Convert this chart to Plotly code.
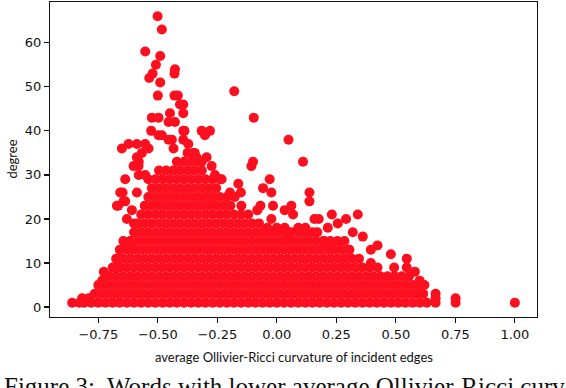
import plotly.graph_objects as go

# ---- dense core of the cloud: one list of curvature values per degree level ----
core_degrees = [1, 3, 5, 7, 9, 11, 13, 15, 17, 19, 21, 23, 25, 27, 29, 31, 33, 35]
core_x_by_degree = [
    [-0.83, -0.81, -0.78, -0.75, -0.72, -0.69, -0.66, -0.63, -0.60, -0.57, -0.54, -0.51, -0.48, -0.45, -0.42, -0.39,
     -0.36, -0.33, -0.30, -0.27, -0.24, -0.21, -0.18, -0.15, -0.12, -0.09, -0.06, -0.03, 0.00, 0.03, 0.06, 0.09,
     0.12, 0.15, 0.18, 0.21, 0.24, 0.27, 0.30, 0.33, 0.36, 0.39, 0.42, 0.45, 0.48, 0.51, 0.54, 0.57, 0.60, 0.63],
    [-0.765, -0.735, -0.705, -0.675, -0.645, -0.615, -0.585, -0.555, -0.525, -0.495, -0.465, -0.435, -0.405, -0.375,
     -0.345, -0.315, -0.285, -0.255, -0.225, -0.195, -0.165, -0.135, -0.105, -0.075, -0.045, -0.015, 0.015, 0.045,
     0.075, 0.105, 0.135, 0.165, 0.195, 0.225, 0.255, 0.285, 0.315, 0.345, 0.375, 0.405, 0.435, 0.465, 0.495, 0.525,
     0.555, 0.585, 0.615],
    [-0.75, -0.72, -0.69, -0.66, -0.63, -0.60, -0.57, -0.54, -0.51, -0.48, -0.45, -0.42, -0.39, -0.36, -0.33, -0.30,
     -0.27, -0.24, -0.21, -0.18, -0.15, -0.12, -0.09, -0.06, -0.03, 0.00, 0.03, 0.06, 0.09, 0.12, 0.15, 0.18, 0.21,
     0.24, 0.27, 0.30, 0.33, 0.36, 0.39, 0.42, 0.45, 0.48, 0.51, 0.54, 0.57, 0.60],
    [-0.705, -0.675, -0.645, -0.615, -0.585, -0.555, -0.525, -0.495, -0.465, -0.435, -0.405, -0.375, -0.345, -0.315,
     -0.285, -0.255, -0.225, -0.195, -0.165, -0.135, -0.105, -0.075, -0.045, -0.015, 0.015, 0.045, 0.075, 0.105,
     0.135, 0.165, 0.195, 0.225, 0.255, 0.285, 0.315, 0.345, 0.375, 0.405, 0.435, 0.465, 0.495, 0.525, 0.555],
    [-0.69, -0.66, -0.63, -0.60, -0.57, -0.54, -0.51, -0.48, -0.45, -0.42, -0.39, -0.36, -0.33, -0.30, -0.27, -0.24,
     -0.21, -0.18, -0.15, -0.12, -0.09, -0.06, -0.03, 0.00, 0.03, 0.06, 0.09, 0.12, 0.15, 0.18, 0.21, 0.24, 0.27,
     0.30, 0.33, 0.36, 0.39],
    [-0.675, -0.645, -0.615, -0.585, -0.555, -0.525, -0.495, -0.465, -0.435, -0.405, -0.375, -0.345, -0.315, -0.285,
     -0.255, -0.225, -0.195, -0.165, -0.135, -0.105, -0.075, -0.045, -0.015, 0.015, 0.045, 0.075, 0.105, 0.135,
     0.165, 0.195, 0.225, 0.255, 0.285, 0.315, 0.345],
    [-0.66, -0.63, -0.60, -0.57, -0.54, -0.51, -0.48, -0.45, -0.42, -0.39, -0.36, -0.33, -0.30, -0.27, -0.24, -0.21,
     -0.18, -0.15, -0.12, -0.09, -0.06, -0.03, 0.00, 0.03, 0.06, 0.09, 0.12, 0.15, 0.18, 0.21, 0.24, 0.27, 0.30],
    [-0.645, -0.615, -0.585, -0.555, -0.525, -0.495, -0.465, -0.435, -0.405, -0.375, -0.345, -0.315, -0.285, -0.255,
     -0.225, -0.195, -0.165, -0.135, -0.105, -0.075, -0.045, -0.015, 0.015, 0.045, 0.075, 0.105, 0.135, 0.165,
     0.195, 0.225, 0.255],
    [-0.60, -0.57, -0.54, -0.51, -0.48, -0.45, -0.42, -0.39, -0.36, -0.33, -0.30, -0.27, -0.24, -0.21, -0.18, -0.15,
     -0.12, -0.09, -0.06, -0.03, 0.00, 0.03, 0.06, 0.09, 0.12, 0.15],
    [-0.585, -0.555, -0.525, -0.495, -0.465, -0.435, -0.405, -0.375, -0.345, -0.315, -0.285, -0.255, -0.225, -0.195,
     -0.165, -0.135, -0.105],
    [-0.57, -0.54, -0.51, -0.48, -0.45, -0.42, -0.39, -0.36, -0.33, -0.30, -0.27, -0.24, -0.21, -0.18, -0.15],
    [-0.555, -0.525, -0.495, -0.465, -0.435, -0.405, -0.375, -0.345, -0.315, -0.285, -0.255, -0.225, -0.195],
    [-0.54, -0.51, -0.48, -0.45, -0.42, -0.39, -0.36, -0.33, -0.30, -0.27, -0.24, -0.21],
    [-0.525, -0.495, -0.465, -0.435, -0.405, -0.375, -0.345, -0.315, -0.285, -0.255],
    [-0.54, -0.51, -0.48, -0.45, -0.42, -0.39, -0.36, -0.33, -0.30, -0.27],
    [-0.495, -0.465, -0.435, -0.405, -0.375, -0.345, -0.315],
    [-0.42, -0.39, -0.36, -0.33],
    [-0.375, -0.345],
]

# ---- sparse nodes around the edge of the cloud ----
edge_x = [-0.501, -0.483, -0.553, -0.490, -0.508, -0.522, -0.536, -0.428, -0.430, -0.490, -0.500, -0.430, -0.416,
          -0.407, -0.393, -0.449, -0.525, -0.497, -0.455, -0.428, -0.528, -0.483, -0.393, -0.441, -0.651, -0.623,
          -0.588, -0.553, -0.580, -0.637, -0.648, -0.667, -0.637, -0.609, -0.630, -0.600, -0.580, -0.588, -0.637,
          -0.616, -0.665, -0.679, -0.727, -0.706, -0.734, -0.790, -0.818, -0.860, -0.497, -0.455, -0.434, -0.393,
          -0.372, -0.351, -0.567, -0.539, -0.581, -0.553, -0.602, -0.588, -0.658, -0.644, -0.672,
          -0.179, -0.097, 0.049, 0.110, -0.302, -0.281, -0.316, -0.393, -0.388, -0.295, -0.337, -0.316, -0.274,
          -0.260, -0.239, -0.232, -0.197, -0.177, -0.149, -0.120, -0.100, -0.107, -0.030, -0.162, -0.151, -0.058,
          -0.023, 0.137, 0.137, -0.069, -0.082, -0.016, -0.023, 0.061, 0.068, 0.033, 0.158, 0.176, 0.231, 0.340,
          0.291, 0.256, 0.214, 0.319, 0.361, 0.395, 0.423, 0.200, 0.214, 0.284, 0.305, 0.033, 0.047, 0.479, 0.546,
          0.546, 0.395, 0.423, 0.493, 0.667, 0.667, 0.667, 0.751, 0.751, 1.000, 0.284, 0.620, 0.600, 0.580,
          -0.075, -0.040, 0.000, 0.090, 0.120, 0.170]
edge_y = [66, 63, 58, 57, 55, 53, 52, 54, 53, 51, 48, 48, 48,
          46, 44, 44, 43, 43, 42, 42, 40, 39, 40, 38, 36, 37,
          37, 37, 33, 29, 26, 23, 24, 22, 20, 19, 30, 26, 14,
          15, 11, 9, 8, 7, 6, 2, 2, 1, 39, 38, 36, 38,
          37, 35, 35, 36, 32, 30, 32, 34, 26, 24, 23,
          49, 43, 38, 33, 39, 40, 40, 46, 40, 34, 34, 33, 32,
          30, 29, 29, 26, 25, 23, 21, 33, 32, 29, 28, 26, 27,
          26, 26, 24, 23, 22, 23, 20, 23, 21, 22, 20, 20, 21, 21,
          20, 19, 18, 17, 16, 13, 14, 15, 14, 15, 13, 18, 16, 12, 11,
          9, 10, 9, 9, 3, 2, 1, 2, 1, 1, 11, 5, 6, 8,
          19, 18, 18, 18, 18, 17]

x_tick_vals = [-0.75, -0.50, -0.25, 0.00, 0.25, 0.50, 0.75, 1.00]
x_tick_text = ["\u22120.75", "\u22120.50", "\u22120.25", "0.00", "0.25", "0.50", "0.75", "1.00"]
y_tick_vals = [0, 10, 20, 30, 40, 50, 60]

x_label = "average Ollivier-Ricci curvature of incident edges"
y_label = "degree"
caption = "Figure 3:\u00a0 Words with lower average Ollivier-Ricci curvature"

# flatten
all_x, all_y = [], []
for deg, xs in zip(core_degrees, core_x_by_degree):
    all_x.extend(xs)
    all_y.extend([deg] * len(xs))
all_x.extend(edge_x)
all_y.extend(edge_y)

RED = "#fc0f1f"

fig = go.Figure(go.Scatter(
    x=all_x, y=all_y, mode="markers",
    marker=dict(size=10, color=RED, line=dict(width=0)),
    hoverinfo="skip",
))

axis_common = dict(
    showline=True, mirror=True, linecolor="#111", linewidth=1.2,
    ticks="outside", ticklen=5, tickwidth=1.2, tickcolor="#111",
    showgrid=False, zeroline=False,
    tickfont=dict(family="DejaVu Sans", size=13, color="#111"),
)

fig.update_layout(
    width=566, height=388,
    margin=dict(l=50, r=29, t=2, b=71),
    paper_bgcolor="white", plot_bgcolor="white",
    showlegend=False,
    xaxis=dict(range=[-0.953, 1.093], tickvals=x_tick_vals, ticktext=x_tick_text, **axis_common),
    yaxis=dict(range=[-2.25, 69.25], tickvals=y_tick_vals, **axis_common),
    annotations=[
        dict(text=x_label, xref="paper", yref="paper", x=0.5, y=-0.1254, xanchor="center", yanchor="middle",
             showarrow=False, font=dict(family="Lato", size=13, color="#111")),
        dict(text=y_label, xref="paper", yref="paper", x=-0.08, y=0.5, xanchor="center", yanchor="middle",
             textangle=-90, showarrow=False, font=dict(family="Lato", size=13, color="#111")),
        dict(text=caption, xref="paper", yref="paper", x=-0.099, y=-0.173, xanchor="left", yanchor="top",
             showarrow=False, font=dict(family="Liberation Serif", size=25, color="#111")),
    ],
)

fig.write_html(
    "out.html",
    config={"displayModeBar": False, "staticPlot": True},
    post_script="document.body.style.margin='0';document.body.style.overflow='hidden';",
)
